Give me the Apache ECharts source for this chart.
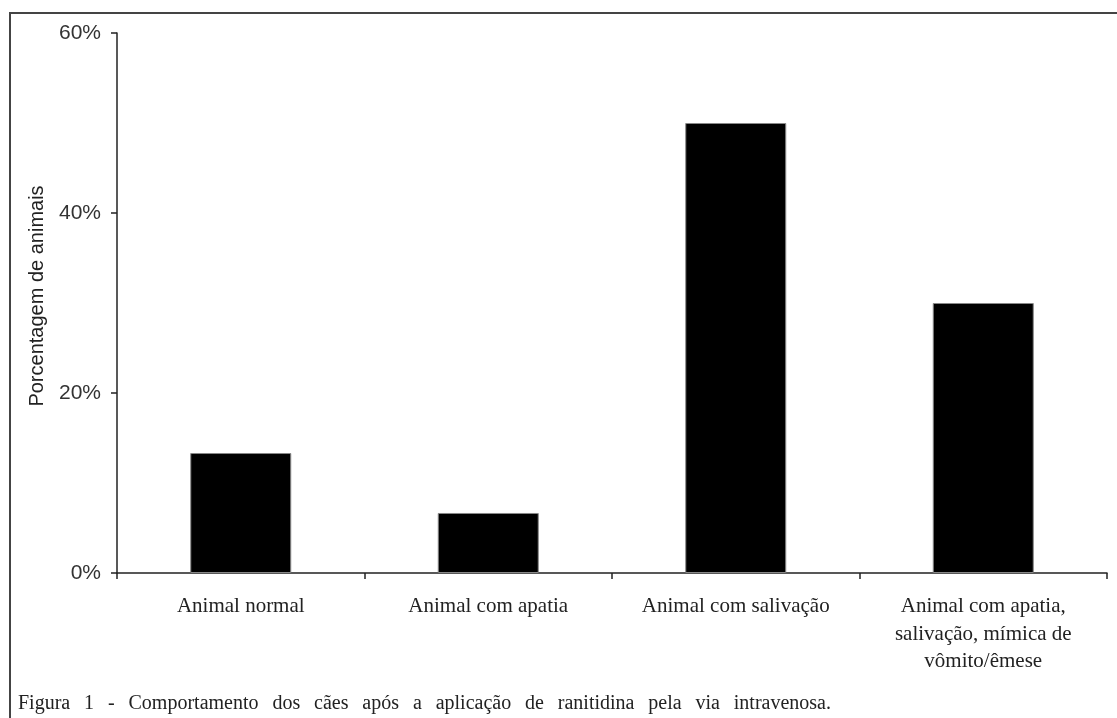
<!DOCTYPE html>
<html>
<head>
<meta charset="utf-8">
<script src="https://cdn.jsdelivr.net/npm/echarts@6/dist/echarts.min.js"></script>
<style>
html,body{margin:0;padding:0;background:#fff;}
#chart{width:1117px;height:718px;}
</style>
</head>
<body>
<div id="chart"></div>
<script>
const categories = [
  "Animal normal",
  "Animal com apatia",
  "Animal com salivação",
  "Animal com apatia,\nsalivação, mímica de\nvômito/êmese"
];
const percentages = [13.33, 6.67, 50, 30];
const yTicks = [0, 20, 40, 60];
const yAxisTitle = "Porcentagem de animais";
const caption = "Figura 1 - Comportamento dos cães após a aplicação de ranitidina pela via intravenosa.";

// justified caption layout (text block from x=18 to x=831)
const capFont = '20px "Liberation Serif", "Times New Roman", serif';
const capLeft = 18, capRight = 831, capTop = 694;
const words = caption.split(' ');
const ctx = document.createElement('canvas').getContext('2d');
ctx.font = capFont;
const widths = words.map(w => ctx.measureText(w).width);
const total = widths.reduce((a, b) => a + b, 0);
const gap = (capRight - capLeft - total) / (words.length - 1);
const captionItems = [];
let cx = capLeft;
words.forEach((w, i) => {
  captionItems.push({
    type: 'text', x: cx, y: capTop, silent: true,
    style: { text: w, fill: '#222', font: capFont }
  });
  cx += widths[i] + gap;
});

const chart = echarts.init(document.getElementById('chart'));
chart.setOption({
  backgroundColor: '#ffffff',
  animation: false,
  grid: { left: 117, right: 10, top: 33, bottom: 145, containLabel: false },
  xAxis: {
    type: 'category',
    data: categories,
    boundaryGap: true,
    axisLine: { show: true, lineStyle: { color: '#222', width: 1.5 } },
    axisTick: { show: true, alignWithLabel: false, length: 6, lineStyle: { color: '#222', width: 1.5 } },
    axisLabel: {
      interval: 0,
      margin: 20,
      color: '#222',
      fontFamily: '"Liberation Serif", "Times New Roman", serif',
      fontSize: 21,
      lineHeight: 27.5,
      align: 'center'
    },
    splitLine: { show: false }
  },
  yAxis: {
    type: 'value',
    min: yTicks[0],
    max: yTicks[yTicks.length - 1],
    interval: 20,
    name: yAxisTitle,
    nameLocation: 'middle',
    nameGap: 70,
    nameRotate: 90,
    nameTextStyle: { color: '#222', fontFamily: '"Liberation Sans", Arial, sans-serif', fontSize: 20, padding: [0, 0, 0, 14] },
    axisLine: { show: true, lineStyle: { color: '#222', width: 1.5 } },
    axisTick: { show: true, length: 6, lineStyle: { color: '#222', width: 1.5 } },
    axisLabel: {
      margin: 16,
      color: '#333',
      fontFamily: '"Liberation Sans", Arial, sans-serif',
      fontSize: 21,
      formatter: v => v + '%'
    },
    splitLine: { show: false }
  },
  series: [{
    type: 'bar',
    data: percentages,
    barWidth: 101,
    itemStyle: { color: '#000000', borderColor: '#888', borderWidth: 1 }
  }],
  graphic: [
    {
      type: 'rect',
      shape: { x: 10, y: 13, width: 1200, height: 800 },
      style: { fill: 'none', stroke: '#444', lineWidth: 2 },
      silent: true
    },
    {
      type: 'group',
      children: captionItems
    }
  ]
});
</script>
</body>
</html>
